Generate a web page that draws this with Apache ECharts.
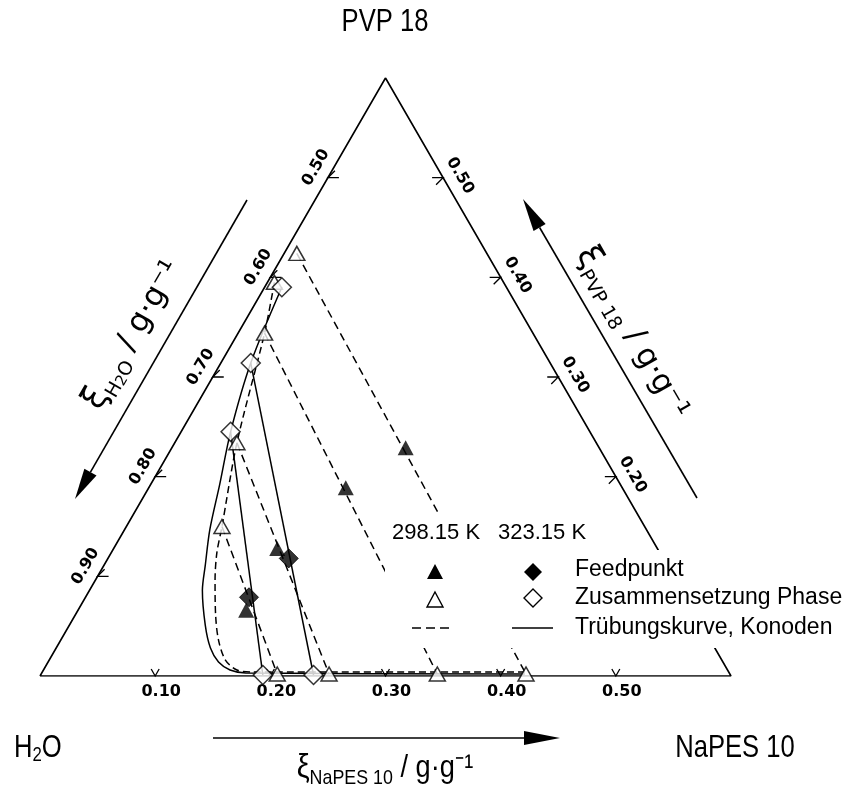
<!DOCTYPE html>
<html><head><meta charset="utf-8">
<script src="https://cdn.jsdelivr.net/npm/echarts@6/dist/echarts.min.js"></script>
<style>html,body{margin:0;padding:0;background:#fff}#c{width:856px;height:785px}</style>
</head><body><div id="c"></div>
<script>
// All compositions given as [xi_NaPES10, xi_PVP18] (xi_H2O = 1 - sum)
const vertices = [[0, 0], [0.6, 0], [0, 0.6], [0, 0]];

const tickNaPES = [0.1, 0.2, 0.3, 0.4, 0.5];
const tickNaPESLabels = ['0.10', '0.20', '0.30', '0.40', '0.50'];
const tickH2O = [0.5, 0.6, 0.7, 0.8, 0.9];
const tickH2OLabels = ['0.50', '0.60', '0.70', '0.80', '0.90'];
const tickPVP = [0.5, 0.4, 0.3, 0.2];
const tickPVPLabels = ['0.50', '0.40', '0.30', '0.20'];

// 298.15 K
const feed298 = [[0.203, 0.229], [0.171, 0.189], [0.142, 0.128], [0.146, 0.066]];
const phaseTop298 = [[0.011, 0.424], [0.023, 0.344], [0.054, 0.234], [0.083, 0.150]];
const phaseBottom298 = [[0.421, 0.002], [0.344, 0.002], [0.250, 0.002], [0.205, 0.002]];
const phaseExtra298 = [[0.006, 0.395]];
const cloud298 = [[0.006, 0.395], [0.023, 0.344], [0.054, 0.234], [0.083, 0.150], [0.092, 0.123],
  [0.104, 0.096], [0.122, 0.061], [0.137, 0.036], [0.153, 0.016], [0.168, 0.006], [0.182, 0.004], [0.419, 0.004]];

// 323.15 K
const feed323 = [[0.157, 0.118], [0.142, 0.079]];
const phaseTop323 = [[0.026, 0.314], [0.043, 0.245]];
const phaseBottom323 = [[0.237, 0.001], [0.193, 0.001]];
const phaseExtra323 = [[0.015, 0.390]];
const cloud323 = [[0.015, 0.390], [0.026, 0.314], [0.043, 0.245], [0.060, 0.192], [0.074, 0.147],
  [0.088, 0.111], [0.098, 0.086], [0.118, 0.051], [0.134, 0.028], [0.148, 0.014], [0.162, 0.006],
  [0.177, 0.003], [0.420, 0.002]];

const S3 = Math.sqrt(3) / 2;
function tern(p) { return [p[0] + p[1] / 2, p[1] * S3]; }

const TICKFONT = 'bold 16px "DejaVu Sans", Verdana, sans-serif';
const tickStyles = {
  bottom: { mark: [[-4, -7], [0, 0], [4, -7]], lx: 6, ly: 16, rot: 0 },
  left: { mark: [[11, 0], [0, 0], [7, -7]], lx: -12, ly: -10, rot: Math.PI / 3 },
  right: { mark: [[-11, 0], [0, 0], [-7, 7]], lx: 17, ly: -2, rot: -Math.PI / 3 }
};
function tickSeries(points, labels, kind) {
  const k = tickStyles[kind];
  return {
    type: 'custom', coordinateSystem: 'cartesian2d', silent: true, z: 3,
    data: points.map((p, i) => { const q = tern(p); return [q[0], q[1], i]; }),
    renderItem: function (params, api) {
      const c = api.coord([api.value(0), api.value(1)]);
      const i = api.value(2);
      return {
        type: 'group', children: [
          { type: 'polyline', shape: { points: k.mark.map(d => [c[0] + d[0], c[1] + d[1]]) },
            style: { stroke: '#000', lineWidth: 1.3, fill: null } },
          { type: 'text', x: c[0] + k.lx, y: c[1] + k.ly, rotation: k.rot,
            style: { text: labels[i], fill: '#000', font: TICKFONT, align: 'center', verticalAlign: 'middle' } }
        ]
      };
    }
  };
}

const series = [];
series.push({ type: 'line', data: vertices.map(tern), symbol: 'none', silent: true, z: 2,
  lineStyle: { color: '#000', width: 1.6 } });
series.push(tickSeries(tickNaPES.map(a => [a, 0]), tickNaPESLabels, 'bottom'));
series.push(tickSeries(tickH2O.map(w => [0, 1 - w]), tickH2OLabels, 'left'));
series.push(tickSeries(tickPVP.map(b => [0.6 - b, b]), tickPVPLabels, 'right'));

series.push({ type: 'line', data: cloud298.map(tern), symbol: 'none', smooth: 0.3, silent: true, z: 2,
  lineStyle: { color: '#000', width: 1.5, type: [7, 4] } });
series.push({ type: 'line', data: cloud323.map(tern), symbol: 'none', smooth: 0.3, silent: true, z: 2,
  lineStyle: { color: '#000', width: 1.5 } });
phaseTop298.forEach((p, i) => series.push({ type: 'line', data: [tern(p), tern(phaseBottom298[i])],
  symbol: 'none', silent: true, z: 2, lineStyle: { color: '#000', width: 1.5, type: [8, 5] } }));
phaseTop323.forEach((p, i) => series.push({ type: 'line', data: [tern(p), tern(phaseBottom323[i])],
  symbol: 'none', silent: true, z: 2, lineStyle: { color: '#000', width: 1.5 } }));

const openStyle = { color: '#fff', borderColor: '#000', borderWidth: 1.5 };
series.push({ type: 'scatter', symbol: 'triangle', symbolSize: [16, 14], z: 5, silent: true,
  data: phaseExtra298.concat(phaseTop298, phaseBottom298).map(tern), itemStyle: openStyle });
series.push({ type: 'scatter', symbol: 'diamond', symbolSize: 19, z: 6, silent: true,
  data: phaseExtra323.concat(phaseTop323, phaseBottom323).map(tern), itemStyle: openStyle });
series.push({ type: 'scatter', symbol: 'triangle', symbolSize: [16, 15], z: 7, silent: true,
  data: feed298.map(tern), itemStyle: { color: '#000' } });
series.push({ type: 'scatter', symbol: 'diamond', symbolSize: 19, z: 7, silent: true,
  data: feed323.map(tern), itemStyle: { color: '#000', borderColor: '#000', borderWidth: 1 } });

function arrow(x1, y1, x2, y2, len, hw) {
  const L = Math.hypot(x2 - x1, y2 - y1), dx = (x2 - x1) / L, dy = (y2 - y1) / L;
  const bx = x2 - dx * len, by = y2 - dy * len;
  return [
    { type: 'line', shape: { x1: x1, y1: y1, x2: bx, y2: by }, style: { stroke: '#000', lineWidth: 1.6 } },
    { type: 'polygon', shape: { points: [[x2, y2], [bx - dy * hw, by + dx * hw], [bx + dy * hw, by - dx * hw]] },
      style: { fill: '#000' } }
  ];
}

const SANS = '"Liberation Sans", Arial, sans-serif';
const DV = '"DejaVu Sans", sans-serif';
const richTitle = {
  x: { font: '34px ' + DV, lineHeight: 42, verticalAlign: 'middle' },
  s: { font: '19px ' + DV, lineHeight: 22, verticalAlign: 'bottom' },
  ss: { font: '15px ' + DV, lineHeight: 16, verticalAlign: 'bottom' },
  m: { font: '31px ' + DV, lineHeight: 42, verticalAlign: 'middle' }
};

const legendFont = '23px ' + SANS;
const graphics = [].concat(
  [
    { type: 'rect', shape: { x: 385, y: 512, width: 190, height: 136 }, style: { fill: '#fff' }, z: 100 },
    { type: 'rect', shape: { x: 575, y: 550, width: 281, height: 98 }, style: { fill: '#fff' }, z: 100 },
    { type: 'text', x: 392, y: 533, z: 101, style: { text: '298.15 K', font: '22px ' + SANS, fill: '#000', align: 'left', verticalAlign: 'middle' } },
    { type: 'text', x: 498, y: 533, z: 101, style: { text: '323.15 K', font: '22px ' + SANS, fill: '#000', align: 'left', verticalAlign: 'middle' } },
    { type: 'polygon', z: 101, shape: { points: [[435, 564], [443, 579], [427, 579]] }, style: { fill: '#000' } },
    { type: 'polygon', z: 101, shape: { points: [[533, 563], [542, 572], [533, 581], [524, 572]] }, style: { fill: '#000' } },
    { type: 'polygon', z: 101, shape: { points: [[435, 592], [443, 607], [427, 607]] }, style: { fill: '#fff', stroke: '#000', lineWidth: 1.4 } },
    { type: 'polygon', z: 101, shape: { points: [[533, 589], [542, 598], [533, 607], [524, 598]] }, style: { fill: '#fff', stroke: '#000', lineWidth: 1.4 } },
    { type: 'line', z: 101, shape: { x1: 412, y1: 628, x2: 451, y2: 628 }, style: { stroke: '#000', lineWidth: 1.4, lineDash: [9, 5] } },
    { type: 'line', z: 101, shape: { x1: 512, y1: 628, x2: 553, y2: 628 }, style: { stroke: '#000', lineWidth: 1.4 } },
    { type: 'text', x: 575, y: 570, z: 101, style: { text: 'Feedpunkt', font: legendFont, fill: '#000', align: 'left', verticalAlign: 'middle' } },
    { type: 'text', x: 575, y: 598, z: 101, style: { text: 'Zusammensetzung Phase', font: legendFont, fill: '#000', align: 'left', verticalAlign: 'middle' } },
    { type: 'text', x: 575, y: 628, z: 101, style: { text: 'Trübungskurve, Konoden', font: legendFont, fill: '#000', align: 'left', verticalAlign: 'middle' } },
    // corner labels
    { type: 'text', x: 385, y: 22, scaleX: 0.8, z: 101, style: { text: 'PVP 18', font: '32px ' + SANS, fill: '#000', align: 'center', verticalAlign: 'middle' } },
    { type: 'text', x: 735, y: 748, scaleX: 0.8, z: 101, style: { text: 'NaPES 10', font: '32px ' + SANS, fill: '#000', align: 'center', verticalAlign: 'middle' } },
    { type: 'text', x: 14, y: 748, scaleX: 0.8, z: 101, style: { text: '{a|H}{b|2}{a|O}', fill: '#000', align: 'left', verticalAlign: 'middle',
      rich: { a: { font: '32px ' + SANS, lineHeight: 36, verticalAlign: 'middle' }, b: { font: '21px ' + SANS, lineHeight: 24, verticalAlign: 'bottom' } } } },
    // axis titles
    { type: 'text', x: 385, y: 768, scaleX: 0.85, z: 101, style: { text: '{x|ξ}{s|NaPES 10}{m| / g·g⁻¹}', fill: '#000', align: 'center', verticalAlign: 'middle',
      rich: { x: { font: '34px ' + SANS, lineHeight: 42, verticalAlign: 'middle' }, s: { font: '21px ' + SANS, lineHeight: 24, verticalAlign: 'bottom' }, m: { font: '32px ' + SANS, lineHeight: 42, verticalAlign: 'middle' } } } },
    { type: 'text', x: 133, y: 335, rotation: Math.PI / 3, z: 101, style: { text: '{x|ξ}{s|H}{ss|2}{s|O}{m| / g·g⁻¹}', fill: '#000', align: 'center', verticalAlign: 'middle', rich: richTitle } },
    { type: 'text', x: 632, y: 333, rotation: -Math.PI / 3, z: 101, style: { text: '{x|ξ}{s|PVP 18}{m| / g·g⁻¹}', fill: '#000', align: 'center', verticalAlign: 'middle', rich: richTitle } }
  ],
  arrow(247, 200, 75, 499, 31, 7),
  arrow(697, 498, 523, 199, 33, 7),
  arrow(213, 738, 560, 738, 36, 7)
);
graphics.forEach(g => { if (g.z === undefined) g.z = 101; });

const chart = echarts.init(document.getElementById('c'), null, { renderer: 'canvas' });
chart.setOption({
  animation: false,
  backgroundColor: '#fff',
  grid: { left: 40, top: 78, width: 691, height: 598 },
  xAxis: { type: 'value', min: 0, max: 0.6, show: false },
  yAxis: { type: 'value', min: 0, max: 0.6 * S3, show: false },
  series: series,
  graphic: { elements: graphics }
});
</script></body></html>
